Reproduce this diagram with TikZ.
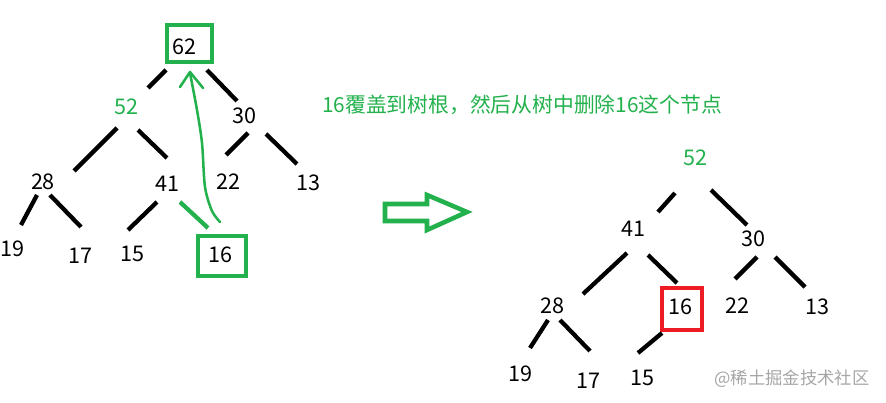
\documentclass[tikz,border=0pt]{standalone}
\usepackage{fontspec}
\setmainfont{Noto Sans CJK SC}
\definecolor{pgreen}{RGB}{34,177,76}
\definecolor{pred}{RGB}{237,28,36}
\tikzset{
  num/.style={inner sep=0pt, anchor=center, font=\fontsize{16.2}{16}\selectfont},
  gnum/.style={num, text=pgreen},
  edge/.style={line width=3.2pt, black},
  gedge/.style={line width=3.2pt, pgreen},
  gbox/.style={draw=pgreen, line width=3.6pt},
  rbox/.style={draw=pred, line width=3.2pt},
}
\begin{document}
\begin{tikzpicture}[x=0.75pt,y=-0.75pt]
\useasboundingbox (0,0) rectangle (886,403);
% ---------- left tree ----------
\draw[gbox] (167,25) rectangle (212,62);
\node[num] (L62) at (184,47) {62};
\node[gnum] (L52) at (126,107) {52};
\node[num] (L30) at (244,116) {30};
\node[num] (L28) at (43,182) {28};
\node[num] (L41) at (167,184) {41};
\node[num] (L22) at (228,182) {22};
\node[num] (L13) at (308,183) {13};
\node[num] (L19) at (12,249) {19};
\node[num] (L17) at (80,256) {17};
\node[num] (L15) at (132,254) {15};
\draw[gbox] (198,236) rectangle (246,276);
\node[num] (L16) at (220,255) {16};
\draw[edge] (166,70) -- (148,88);
\draw[edge] (207,70) -- (237,101);
\draw[edge] (117,128) -- (74,171);
\draw[edge] (138,130) -- (167,158);
\draw[edge] (248,133) -- (226,155);
\draw[edge] (266,134) -- (297,164);
\draw[edge] (37,195) -- (21,225);
\draw[edge] (50,195) -- (81,227);
\draw[edge] (157,202) -- (128,230);
\draw[gedge] (180,202) -- (208,228);
% curved move arrow
\draw[pgreen, line width=1.9pt, line cap=round, line join=round]
  plot[smooth] coordinates {(220,222) (212,211) (205,187) (202,143) (197,110) (190,73)};
\draw[pgreen, line width=1.9pt, line cap=round, line join=round]
  (180,87) -- (190,72) -- (203,88);
% ---------- title ----------
\node[inner sep=0pt, text=pgreen, font=\fontsize{15.6}{16}\selectfont] (title) at (522,105) {16覆盖到树根，然后从树中删除16这个节点};
% ---------- hollow arrow ----------
\draw[pgreen, line width=3.4pt, line join=miter]
  (385,204) -- (427,204) -- (427,195) -- (467,212) -- (427,230) -- (427,221) -- (385,221) -- cycle;
% ---------- right tree ----------
\node[gnum] (R52) at (695,158) {52};
\node[num] (R41) at (633,229) {41};
\node[num] (R30) at (753,239) {30};
\node[num] (R28) at (552,306) {28};
\draw[rbox] (662,288) rectangle (702,330);
\node[num] (R16) at (680,307) {16};
\node[num] (R22) at (737,306) {22};
\node[num] (R13) at (817,307) {13};
\node[num] (R19) at (520,374) {19};
\node[num] (R17) at (588,381) {17};
\node[num] (R15) at (642,378) {15};
\draw[edge] (675,193) -- (658,212);
\draw[edge] (711,190) -- (747,225);
\draw[edge] (627,253) -- (583,294);
\draw[edge] (648,255) -- (677,283);
\draw[edge] (757,257) -- (735,279);
\draw[edge] (775,257) -- (805,287);
\draw[edge] (548,320) -- (530,348);
\draw[edge] (560,320) -- (590,351);
\draw[edge] (662,333) -- (638,353);
% watermark
\node[inner sep=0pt, text=black!35, font=\fontsize{13}{13}\selectfont] (wm) at (792,379) {@稀土掘金技术社区};
\end{tikzpicture}
\end{document}
